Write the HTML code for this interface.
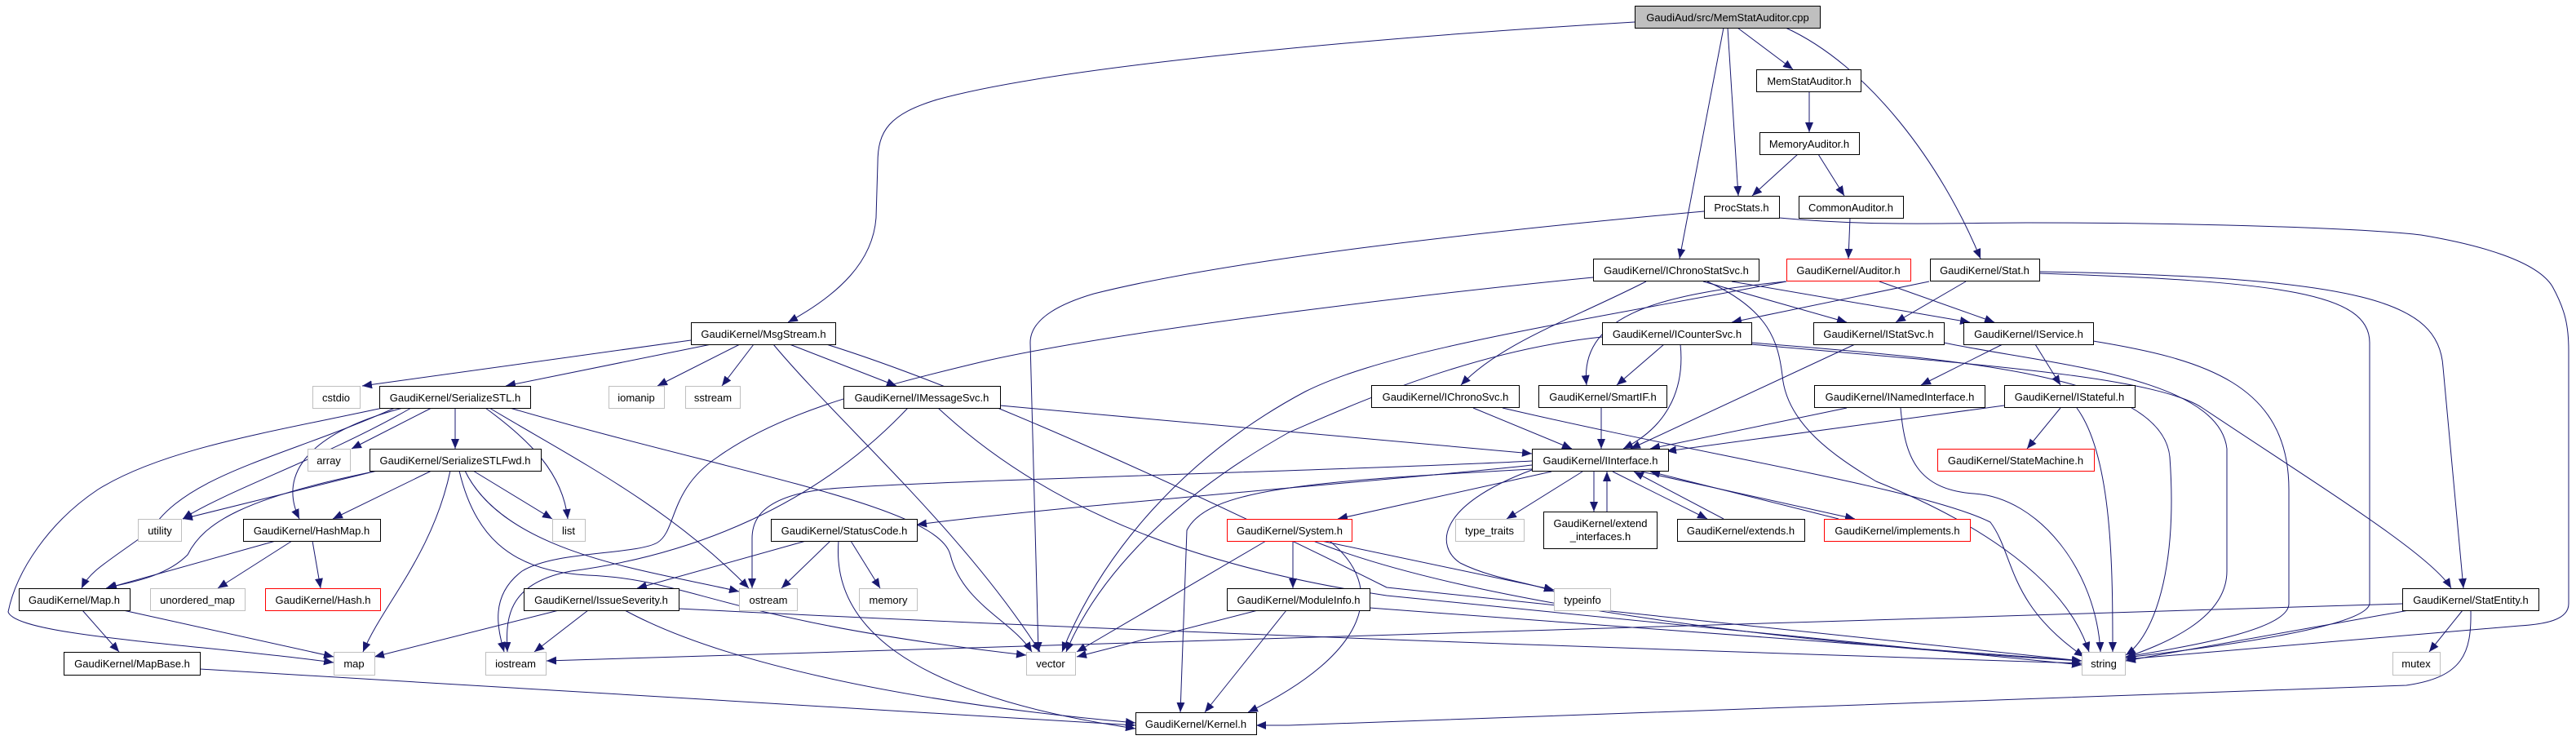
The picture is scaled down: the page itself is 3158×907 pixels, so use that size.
<!DOCTYPE html>
<html><head><meta charset="utf-8"><style>
html,body{margin:0;padding:0;background:#fff;}
svg{display:block;}
text{font-family:"Liberation Sans",sans-serif;font-size:13px;fill:#000;}
</style></head><body>
<svg width="3158" height="907" viewBox="0 0 3158 907" xmlns="http://www.w3.org/2000/svg">
<defs>
<marker id="a" markerUnits="userSpaceOnUse" markerWidth="12" markerHeight="10" refX="12" refY="5" orient="auto">
<path d="M0,0 L12,5 L0,10 z" fill="#191970"/>
</marker>
</defs>
<g fill="none" stroke="#191970" stroke-width="1" marker-end="url(#a)">
<path d="M2004,27 C1700,45 1300,80 1149,122 C1090,140 1076,160 1076,200 L1074,267 C1070,320 1030,360 966,395"/>
<path d="M2130,34 L2198,85"/>
<path d="M2118,34 L2131,240"/>
<path d="M2113,34 L2059,317"/>
<path d="M2189,34 C2290,80 2380,200 2428,317"/>
<path d="M2218,112 L2218,162"/>
<path d="M2204,189 L2148,240"/>
<path d="M2229,189 L2261,240"/>
<path d="M2268,267 L2266,317"/>
<path d="M2089,259 C1800,285 1500,320 1341,360 C1290,375 1263,395 1263,420 L1273,799"/>
<path d="M2181,267 C2300,278 2400,273 2485,273 C2700,273 2900,280 2968,288 C3040,300 3110,320 3129,351 C3145,380 3149,400 3149,430 L3149,740 C3149,760 3120,765 3089,767 L2606,808"/>
<path d="M1953,340 C1800,355 1400,400 1210,442 C1050,480 950,510 880,560 C820,600 830,650 806,665 C780,680 680,675 640,700 C600,730 610,770 618,799"/>
<path d="M2018,345 C1930,390 1840,420 1791,472"/>
<path d="M2088,345 L2264,395"/>
<path d="M2123,345 L2415,395"/>
<path d="M2093,345 C2170,380 2180,420 2185,460 C2190,520 2250,560 2300,590 C2400,630 2530,700 2561,799"/>
<path d="M2304,345 L2445,395"/>
<path d="M2189,345 C2050,360 1935,380 1945,472"/>
<path d="M2365,345 L2123,395"/>
<path d="M2410,345 L2324,395"/>
<path d="M2500,335 C2800,345 2905,360 2905,420 L2905,740 C2900,770 2700,795 2606,806"/>
<path d="M2500,333 C2900,340 2990,370 2995,450 L3020,721"/>
<path d="M2190,345 C1900,400 1700,430 1600,480 C1450,560 1350,680 1302,799"/>
<path d="M1964,413 C1800,430 1650,500 1580,530 C1420,620 1340,720 1307,799"/>
<path d="M2040,422 L1982,472"/>
<path d="M2060,422 C2065,470 2050,520 1990,550"/>
<path d="M2147,420 C2400,440 2650,460 2660,560 C2670,700 2640,780 2606,803"/>
<path d="M2147,422 C2400,445 2640,460 2700,500 C2850,600 2980,680 3005,721"/>
<path d="M2274,422 L1999,550"/>
<path d="M2383,420 C2500,445 2720,460 2730,550 L2730,700 C2730,760 2650,790 2606,806"/>
<path d="M2455,422 L2355,472"/>
<path d="M2495,422 L2526,472"/>
<path d="M2566,418 C2700,440 2806,470 2806,600 L2806,740 C2806,770 2700,790 2606,805"/>
<path d="M1806,500 L1927,550"/>
<path d="M1842,500 C2100,560 2360,600 2440,640 C2470,680 2460,740 2555,805"/>
<path d="M1963,500 L1963,550"/>
<path d="M2264,500 L2023,550"/>
<path d="M2330,500 C2335,560 2350,600 2420,605 C2500,610 2570,700 2575,799"/>
<path d="M2457,497 L2043,553"/>
<path d="M2526,500 L2485,550"/>
<path d="M2546,500 C2590,560 2590,700 2590,799"/>
<path d="M1940,578 L1847,636"/>
<path d="M1954,578 L1954,627"/>
<path d="M1970,627 L1970,578"/>
<path d="M2113,636 L2003,578"/>
<path d="M1977,578 L2093,636"/>
<path d="M2254,636 L2023,578"/>
<path d="M2012,578 L2274,636"/>
<path d="M1902,578 L1640,636"/>
<path d="M1878,570 C1750,585 1300,620 1124,643"/>
<path d="M1878,565 C1700,575 1100,590 1008,600 C930,610 922,640 922,660 L922,721"/>
<path d="M1878,575 C1600,590 1480,600 1455,650 L1447,873"/>
<path d="M1878,576 C1760,620 1760,670 1790,690 C1830,710 1880,715 1905,725"/>
<path d="M1226,497 C1500,520 1700,540 1878,556"/>
<path d="M1150,500 C1300,640 1500,700 1700,730 L2552,815"/>
<path d="M1113,500 C1000,620 850,680 700,700 C620,715 620,760 622,799"/>
<path d="M847,417 L444,473"/>
<path d="M872,422 L620,473"/>
<path d="M907,422 L806,473"/>
<path d="M924,422 L885,473"/>
<path d="M968,422 L1099,473"/>
<path d="M948,422 C1030,520 1180,650 1275,799"/>
<path d="M1013,422 C1200,480 1500,620 1700,720 L2552,810"/>
<path d="M529,500 L431,550"/>
<path d="M558,500 L558,550"/>
<path d="M595,500 C650,540 690,580 696,636"/>
<path d="M600,500 C700,560 820,620 918,721"/>
<path d="M625,500 C900,580 1150,620 1165,680 C1180,740 1240,760 1265,799"/>
<path d="M494,500 C380,530 340,580 367,636"/>
<path d="M504,500 C400,560 280,600 224,636"/>
<path d="M484,500 C350,560 230,580 185,650 C130,690 110,700 100,721"/>
<path d="M469,500 C330,530 200,550 120,600 C60,640 20,700 10,750 C20,780 250,790 409,812"/>
<path d="M458,578 L224,636"/>
<path d="M529,577 L408,636"/>
<path d="M463,577 C300,610 250,640 230,680 C200,710 150,715 130,721"/>
<path d="M580,577 L677,636"/>
<path d="M552,577 C530,680 470,740 445,799"/>
<path d="M570,577 C620,680 800,700 906,725"/>
<path d="M563,577 C580,650 620,700 720,705 C850,710 880,760 1258,803"/>
<path d="M338,663 L131,721"/>
<path d="M358,663 L267,721"/>
<path d="M383,663 L393,721"/>
<path d="M101,748 L146,799"/>
<path d="M151,748 L409,805"/>
<path d="M245,820 L1392,889"/>
<path d="M988,663 L781,721"/>
<path d="M1018,663 L958,721"/>
<path d="M1043,663 L1079,721"/>
<path d="M1028,663 C1020,760 1100,850 1392,893"/>
<path d="M685,748 L459,805"/>
<path d="M721,748 L655,799"/>
<path d="M766,748 C880,810 1100,860 1392,886"/>
<path d="M832,746 C1400,775 2000,795 2552,813"/>
<path d="M1552,663 L1320,799"/>
<path d="M1620,663 L1905,723"/>
<path d="M1610,663 C1800,740 2200,790 2552,810"/>
<path d="M1585,663 L1585,721"/>
<path d="M1630,663 C1700,720 1680,800 1530,873"/>
<path d="M1542,748 L1320,805"/>
<path d="M1577,748 L1477,873"/>
<path d="M1679,745 L2552,810"/>
<path d="M2945,740 L1580,782 L670,810"/>
<path d="M2953,748 L2606,810"/>
<path d="M3019,748 L2978,799"/>
<path d="M3029,748 C3030,800 3020,830 2950,840 L1580,889 L1540,889"/>
</g>
<g stroke-width="1">
<!-- black nodes -->
<g fill="#fff" stroke="#000">
<rect x="2153.5" y="85.5" width="128" height="27"/>
<rect x="2157.5" y="162.5" width="122" height="27"/>
<rect x="2089.5" y="240.5" width="92" height="27"/>
<rect x="2205.5" y="240.5" width="128" height="27"/>
<rect x="1953.5" y="317.5" width="203" height="27"/>
<rect x="2366.5" y="317.5" width="134" height="27"/>
<rect x="1964.5" y="395.5" width="183" height="27"/>
<rect x="2223.5" y="395.5" width="160" height="27"/>
<rect x="2407.5" y="395.5" width="159" height="27"/>
<rect x="1681.5" y="472.5" width="181" height="27"/>
<rect x="1886.5" y="472.5" width="157" height="27"/>
<rect x="2224.5" y="472.5" width="209" height="27"/>
<rect x="2457.5" y="472.5" width="160" height="27"/>
<rect x="1878.5" y="550.5" width="167" height="27"/>
<rect x="1892.5" y="627.5" width="139" height="45"/>
<rect x="2056.5" y="636.5" width="156" height="27"/>
<rect x="2945.5" y="721.5" width="167" height="27"/>
<rect x="847.5" y="395.5" width="177" height="27"/>
<rect x="465.5" y="473.5" width="185" height="27"/>
<rect x="1034.5" y="473.5" width="192" height="27"/>
<rect x="453.5" y="550.5" width="210" height="27"/>
<rect x="298.5" y="636.5" width="168" height="27"/>
<rect x="945.5" y="636.5" width="179" height="27"/>
<rect x="23.5" y="721.5" width="136" height="27"/>
<rect x="642.5" y="721.5" width="190" height="27"/>
<rect x="1504.5" y="721.5" width="175" height="27"/>
<rect x="78.5" y="799.5" width="167" height="28"/>
<rect x="1392.5" y="873.5" width="148" height="27"/>
</g>
<rect x="2004.5" y="7.5" width="227" height="27" fill="#bfbfbf" stroke="#000"/>
<!-- red nodes -->
<g fill="#fff" stroke="#ff0000">
<rect x="2190.5" y="317.5" width="152" height="27"/>
<rect x="2375.5" y="550.5" width="192" height="27"/>
<rect x="2236.5" y="636.5" width="179" height="27"/>
<rect x="1504.5" y="636.5" width="153" height="27"/>
<rect x="325.5" y="721.5" width="141" height="27"/>
</g>
<!-- gray nodes -->
<g fill="#fff" stroke="#bfbfbf">
<rect x="383.5" y="473.5" width="58" height="27"/>
<rect x="746.5" y="473.5" width="68" height="27"/>
<rect x="840.5" y="473.5" width="67" height="27"/>
<rect x="377.5" y="550.5" width="52" height="27"/>
<rect x="169.5" y="636.5" width="53" height="27"/>
<rect x="677.5" y="636.5" width="40" height="27"/>
<rect x="184.5" y="721.5" width="116" height="27"/>
<rect x="906.5" y="721.5" width="71" height="27"/>
<rect x="1053.5" y="721.5" width="71" height="27"/>
<rect x="409.5" y="799.5" width="50" height="28"/>
<rect x="595.5" y="799.5" width="74" height="28"/>
<rect x="1258.5" y="799.5" width="60" height="28"/>
<rect x="1784.5" y="636.5" width="84" height="27"/>
<rect x="1905.5" y="721.5" width="69" height="27"/>
<rect x="2552.5" y="799.5" width="53" height="28"/>
<rect x="2933.5" y="799.5" width="58" height="28"/>
</g>
</g>
<g text-anchor="middle">
<text x="2118" y="26">GaudiAud/src/MemStatAuditor.cpp</text>
<text x="2218" y="104">MemStatAuditor.h</text>
<text x="2218" y="181">MemoryAuditor.h</text>
<text x="2135" y="259">ProcStats.h</text>
<text x="2269" y="259">CommonAuditor.h</text>
<text x="2055" y="336">GaudiKernel/IChronoStatSvc.h</text>
<text x="2266" y="336">GaudiKernel/Auditor.h</text>
<text x="2433" y="336">GaudiKernel/Stat.h</text>
<text x="2056" y="414">GaudiKernel/ICounterSvc.h</text>
<text x="2303" y="414">GaudiKernel/IStatSvc.h</text>
<text x="2487" y="414">GaudiKernel/IService.h</text>
<text x="1772" y="491">GaudiKernel/IChronoSvc.h</text>
<text x="1965" y="491">GaudiKernel/SmartIF.h</text>
<text x="2329" y="491">GaudiKernel/INamedInterface.h</text>
<text x="2537" y="491">GaudiKernel/IStateful.h</text>
<text x="1962" y="569">GaudiKernel/IInterface.h</text>
<text x="2471" y="569">GaudiKernel/StateMachine.h</text>
<text x="1826" y="655">type_traits</text>
<text x="1962" y="646">GaudiKernel/extend</text>
<text x="1962" y="662">_interfaces.h</text>
<text x="2134" y="655">GaudiKernel/extends.h</text>
<text x="2326" y="655">GaudiKernel/implements.h</text>
<text x="1581" y="655">GaudiKernel/System.h</text>
<text x="1940" y="740">typeinfo</text>
<text x="3029" y="740">GaudiKernel/StatEntity.h</text>
<text x="2579" y="818">string</text>
<text x="2962" y="818">mutex</text>
<text x="936" y="414">GaudiKernel/MsgStream.h</text>
<text x="412" y="492">cstdio</text>
<text x="558" y="492">GaudiKernel/SerializeSTL.h</text>
<text x="780" y="492">iomanip</text>
<text x="874" y="492">sstream</text>
<text x="1130" y="492">GaudiKernel/IMessageSvc.h</text>
<text x="403" y="569">array</text>
<text x="558" y="569">GaudiKernel/SerializeSTLFwd.h</text>
<text x="196" y="655">utility</text>
<text x="382" y="655">GaudiKernel/HashMap.h</text>
<text x="697" y="655">list</text>
<text x="1035" y="655">GaudiKernel/StatusCode.h</text>
<text x="91" y="740">GaudiKernel/Map.h</text>
<text x="242" y="740">unordered_map</text>
<text x="396" y="740">GaudiKernel/Hash.h</text>
<text x="737" y="740">GaudiKernel/IssueSeverity.h</text>
<text x="942" y="740">ostream</text>
<text x="1089" y="740">memory</text>
<text x="1592" y="740">GaudiKernel/ModuleInfo.h</text>
<text x="162" y="818">GaudiKernel/MapBase.h</text>
<text x="434" y="818">map</text>
<text x="632" y="818">iostream</text>
<text x="1288" y="818">vector</text>
<text x="1466" y="892">GaudiKernel/Kernel.h</text>
</g>
</svg>
</body></html>
